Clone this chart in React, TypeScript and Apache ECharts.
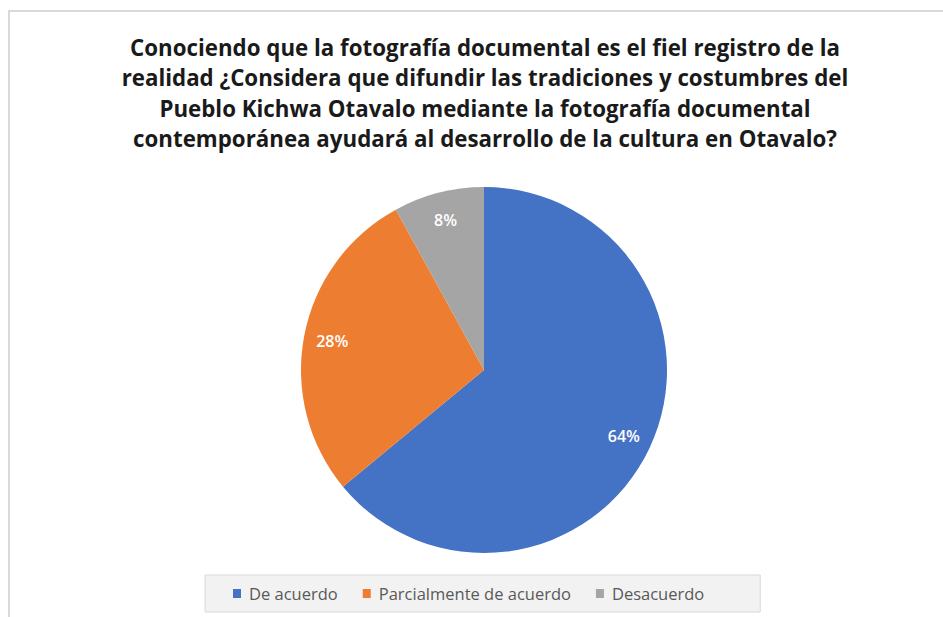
import React, { useEffect, useRef } from "react";
import * as echarts from "echarts";

const titleLines = [
  "Conociendo que la fotografía documental es el fiel registro de la",
  "realidad ¿Considera que difundir las tradiciones y costumbres del",
  "Pueblo Kichwa Otavalo mediante la fotografía documental",
  "contemporánea ayudará al desarrollo de la cultura en Otavalo?",
];
const categories = ["De acuerdo", "Parcialmente de acuerdo", "Desacuerdo"];
const values = [64, 28, 8];
const colors = ["#4472c4", "#ed7d31", "#a5a5a5"];

export default function App() {
  const ref = useRef<HTMLDivElement>(null);
  useEffect(() => {
    const chart = echarts.init(ref.current!, null, { renderer: "svg" });
    const data = categories.map((name, i) => ({
      name,
      value: values[i],
      itemStyle: { color: colors[i] },
    }));
    chart.setOption({
      animation: false,
      backgroundColor: "#ffffff",
      graphic: [
        {
          type: "rect",
          shape: { x: 9, y: 11, width: 1200, height: 1200 },
          style: { fill: "none", stroke: "#d9d9d9", lineWidth: 2 },
          silent: true,
        },
      ],
      title: {
        text: titleLines.join("\n"),
        left: 480,
        textAlign: "center",
        top: 27,
        textStyle: {
          fontFamily: "Open Sans",
          fontWeight: "bold",
          fontSize: 22.3,
          lineHeight: 30.5,
          color: "#1a1a1a",
        },
      },
      legend: {
        data: categories,
        left: 205,
        top: 575,
        orient: "horizontal",
        backgroundColor: "#f2f2f2",
        borderColor: "#d9d9d9",
        borderWidth: 1,
        padding: [10, 56, 10, 28],
        itemWidth: 8,
        itemHeight: 9,
        itemGap: 25,
        icon: "rect",
        textStyle: {
          fontFamily: "Open Sans",
          fontSize: 16.5,
          color: "#595959",
          padding: [0, 0, 0, 3],
        },
      },
      series: [
        {
          type: "pie",
          center: [484, 370],
          radius: [0, 183],
          startAngle: 90,
          clockwise: true,
          data,
          label: { show: false },
          labelLine: { show: false },
          silent: true,
          itemStyle: { borderWidth: 0 },
        },
        {
          type: "pie",
          center: [484, 370],
          radius: [120, 183],
          startAngle: 90,
          clockwise: true,
          silent: true,
          data: data.map((d) => ({ ...d, itemStyle: { color: "rgba(0,0,0,0)" } })),
          label: {
            show: true,
            position: "inside",
            formatter: "{c}%",
            color: "#ffffff",
            fontFamily: "Open Sans",
            fontSize: 16,
            fontWeight: 600,
          },
          labelLine: { show: false },
          emphasis: { disabled: true },
        },
      ],
    });
    return () => chart.dispose();
  }, []);
  return <div ref={ref} style={{ width: 943, height: 617, position: "absolute", left: 0, top: 0 }} />;
}
